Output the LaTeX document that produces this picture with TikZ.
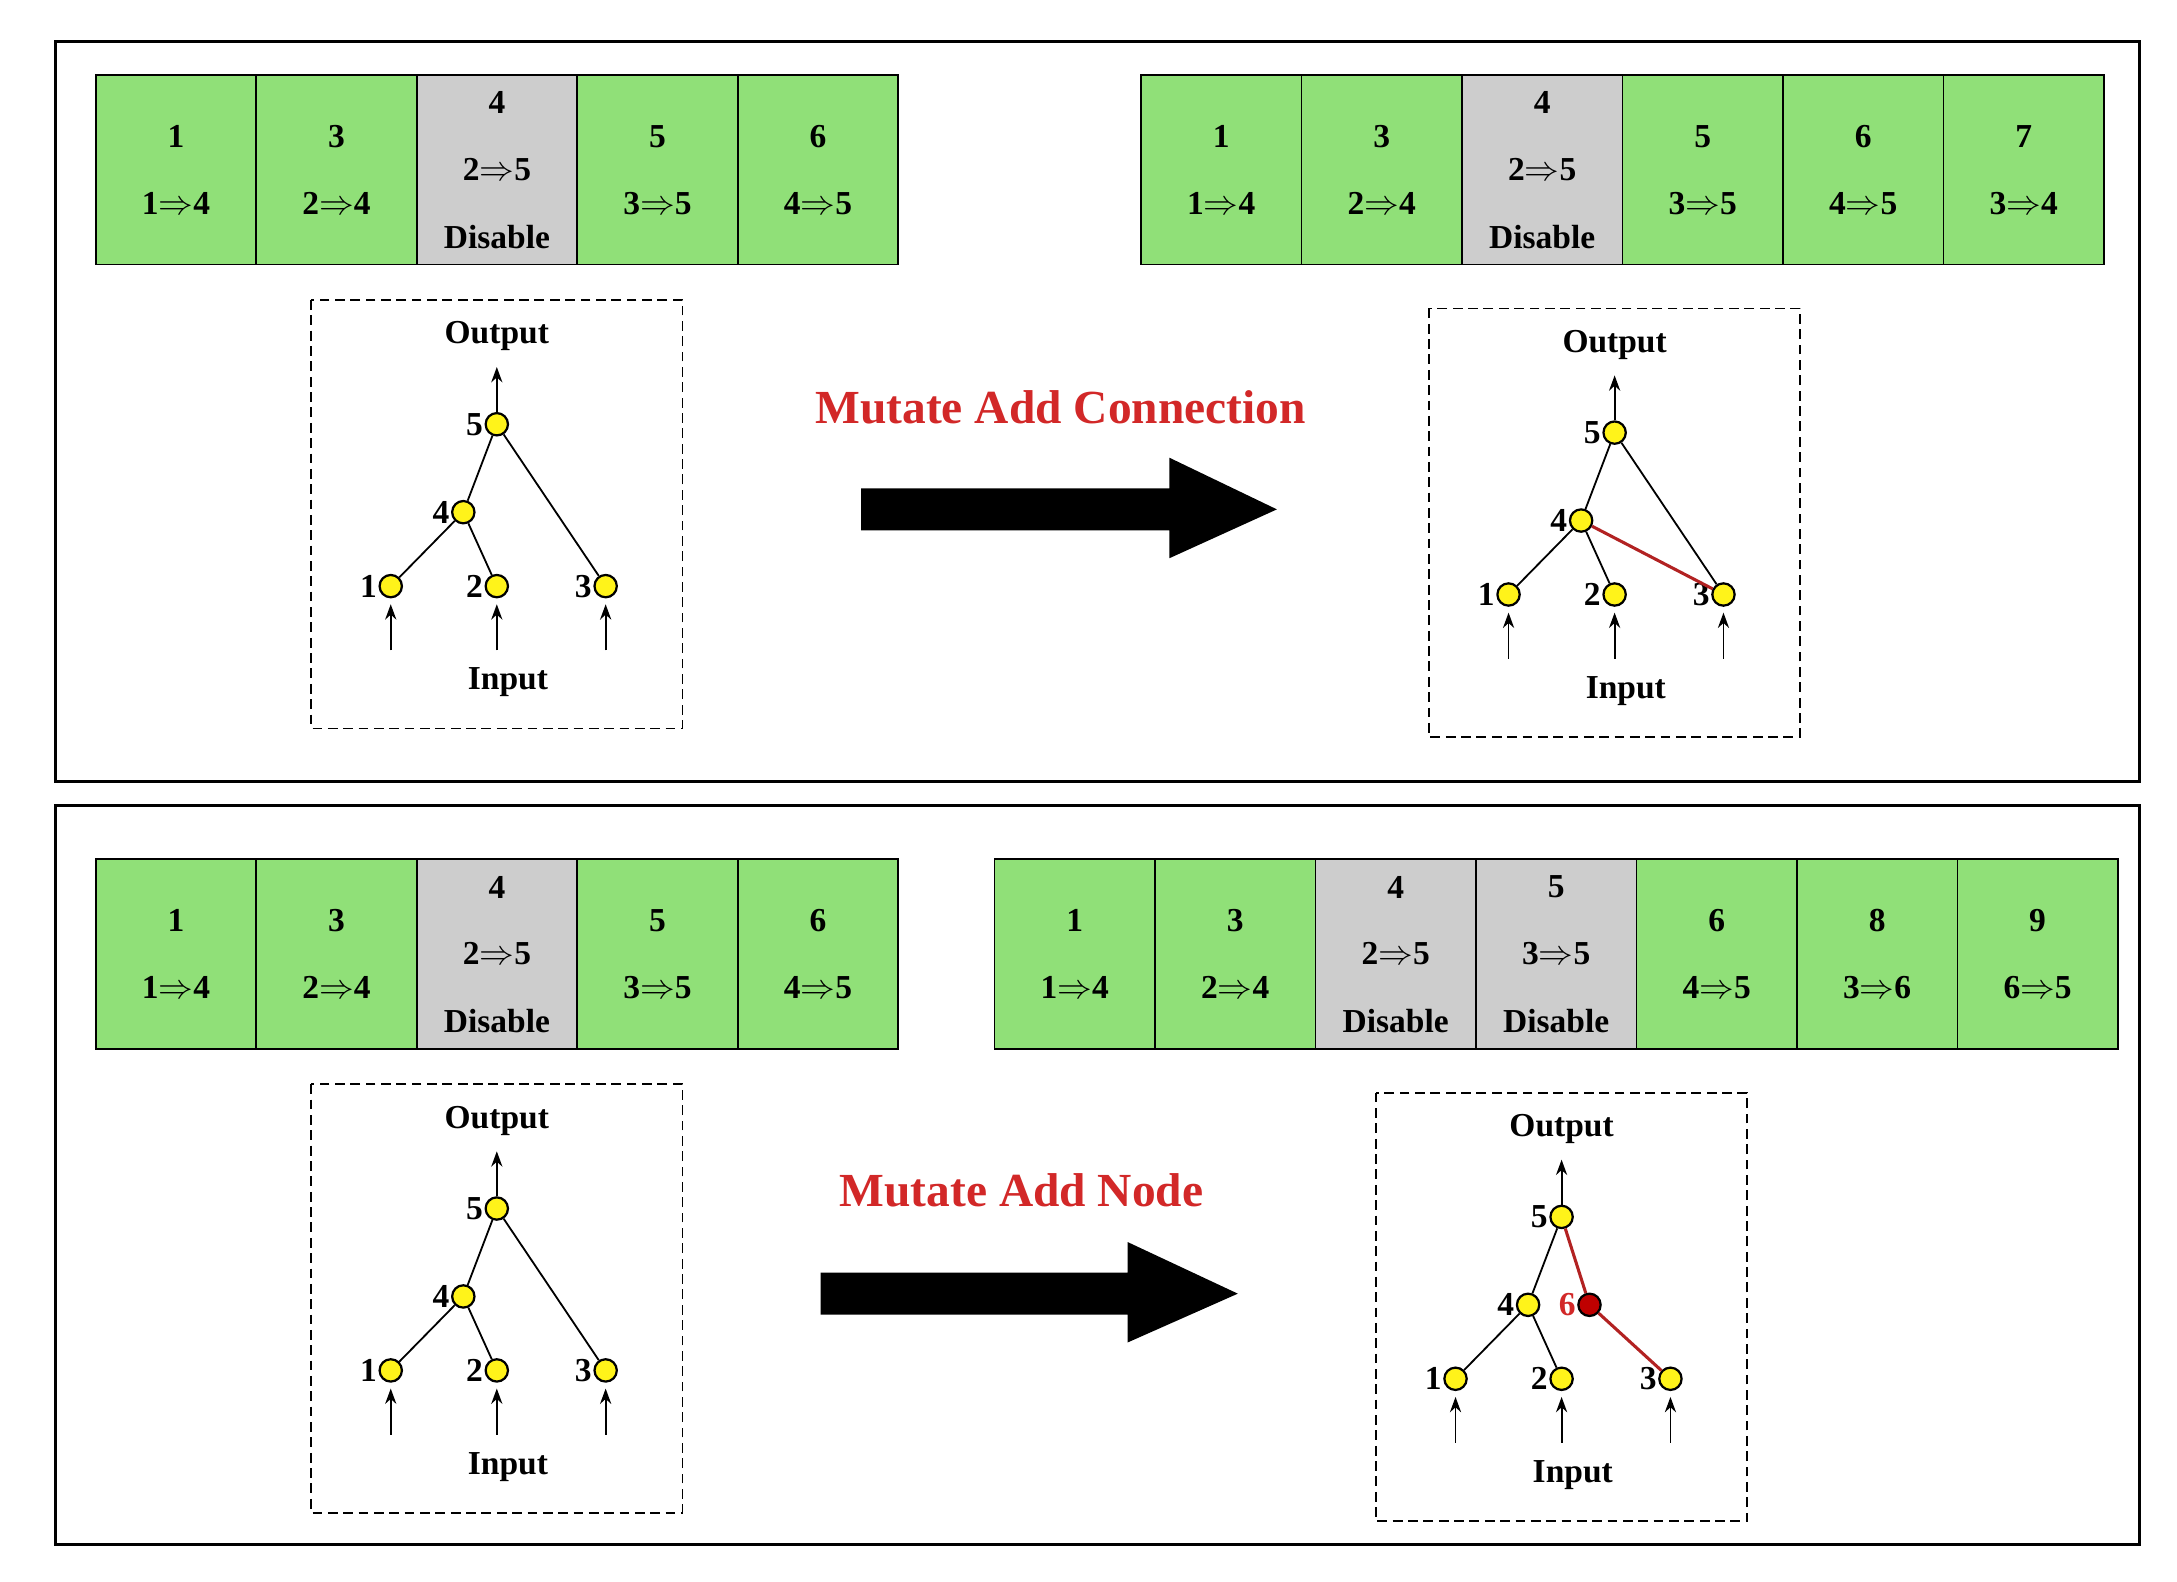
\documentclass[tikz,border=0pt]{standalone}
\usepackage{fontspec}
\setmainfont{Liberation Serif}
\usetikzlibrary{arrows.meta}
\definecolor{cellg}{RGB}{144,224,120}
\definecolor{cellgr}{RGB}{205,205,205}
\definecolor{mred}{RGB}{210,40,40}
\tikzset{
 frame/.style={draw=black,line width=2pt},
 cell/.style={draw=black,line width=1.2pt,fill=cellg,minimum width=115pt,minimum height=136pt,inner sep=0,anchor=north west},
 dcell/.style={cell,fill=cellgr},
 ctext/.style={font=\fontsize{24}{24}\selectfont\bfseries},
 nd/.style={circle,draw=black,line width=1.6pt,fill=yellow!90!white,minimum size=16pt,inner sep=0},
 rnd/.style={nd,fill=red!75!black},
 lbl/.style={font=\fontsize{24}{24}\selectfont\bfseries},
 edge/.style={line width=1.3pt},
 redge/.style={line width=2.2pt,draw=mred!85!black},
 io/.style={-{Stealth[length=11pt,width=8pt]},line width=1.3pt},
 dbox/.style={draw=black,dashed,line width=1.3pt,dash pattern=on 7pt off 4pt},
 title/.style={font=\fontsize{34}{34}\selectfont\bfseries,text=mred},
 big/.style={fill=black},
}
\newcommand{\gcell}[4]{\node[cell] (#1) at (#2) {}; \node[ctext] at ($(#1.center)+(0,-24)$) {#3}; \node[ctext] at ($(#1.center)+(0,24)$) {#4};}
\newcommand{\dcellx}[4]{\node[dcell] (#1) at (#2) {}; \node[ctext] at ($(#1.center)+(0,-48)$) {#3}; \node[ctext] at (#1.center) {#4}; \node[ctext] at ($(#1.center)+(0,48)$) {Disable};}
\usetikzlibrary{calc}
\newcommand{\arr}{\ensuremath{\Rightarrow}}
\begin{document}
\begin{tikzpicture}[x=1pt,y=-1pt]
\useasboundingbox[fill=white] (0,0) rectangle (1560,1133);
\draw[frame] (40,30) rectangle (1533,560);
\draw[frame] (40,577) rectangle (1533,1107);
% top-left cells
\gcell{a1}{68,53}{1}{1\arr4}
\gcell{a2}{183,53}{3}{2\arr4}
\dcellx{a3}{298,53}{4}{2\arr5}
\gcell{a4}{413,53}{5}{3\arr5}
\gcell{a5}{528,53}{6}{4\arr5}
% top-right
\gcell{b1}{817,53}{1}{1\arr4}
\gcell{b2}{932,53}{3}{2\arr4}
\dcellx{b3}{1047,53}{4}{2\arr5}
\gcell{b4}{1162,53}{5}{3\arr5}
\gcell{b5}{1277,53}{6}{4\arr5}
\gcell{b6}{1392,53}{7}{3\arr4}
% bottom-left
\gcell{c1}{68,615}{1}{1\arr4}
\gcell{c2}{183,615}{3}{2\arr4}
\dcellx{c3}{298,615}{4}{2\arr5}
\gcell{c4}{413,615}{5}{3\arr5}
\gcell{c5}{528,615}{6}{4\arr5}
% bottom-right
\gcell{d1}{712,615}{1}{1\arr4}
\gcell{d2}{827,615}{3}{2\arr4}
\dcellx{d3}{942,615}{4}{2\arr5}
\dcellx{d4}{1057,615}{5}{3\arr5}
\gcell{d5}{1172,615}{6}{4\arr5}
\gcell{d6}{1287,615}{8}{3\arr6}
\gcell{d7}{1402,615}{9}{6\arr5}
% trees
\foreach \nm/\dx/\dy/\mode in {t1/0/0/0, t2/801/6/1, t3/0/562/0, t4/763/568/2}{
 \begin{scope}[shift={(\dx,\dy)}]
  \draw[dbox] (223,215) rectangle (489,522);
  \node[lbl] (\nm-out) at (356,241) {Output};
  \node[lbl] (\nm-in) at (364,489) {Input};
  \node[nd,label={[lbl,inner sep=1pt]left:5}] (\nm-5) at (356,304) {};
  \node[nd,label={[lbl,inner sep=1pt]left:4}] (\nm-4) at (332,367) {};
  \node[nd,label={[lbl,inner sep=1pt]left:1}] (\nm-1) at (280,420) {};
  \node[nd,label={[lbl,inner sep=1pt]left:2}] (\nm-2) at (356,420) {};
  \node[nd,label={[lbl,inner sep=1pt]left:3}] (\nm-3) at (434,420) {};
  \coordinate (\nm-o) at (356,263);
  \coordinate (\nm-i1) at (280,466);
  \coordinate (\nm-i2) at (356,466);
  \coordinate (\nm-i3) at (434,466);
  \draw[io] (\nm-5) -- (\nm-o);
  \draw[io] (\nm-i1) -- ($(\nm-1)+(0,13)$);
  \draw[io] (\nm-i2) -- ($(\nm-2)+(0,13)$);
  \draw[io] (\nm-i3) -- ($(\nm-3)+(0,13)$);
  \draw[edge] (\nm-5) -- (\nm-4);
  \draw[edge] (\nm-4) -- (\nm-1);
  \draw[edge] (\nm-4) -- (\nm-2);
  \ifnum\mode<2 \draw[edge] (\nm-5) -- (\nm-3); \fi
  \ifnum\mode=1 \draw[redge] (\nm-4) -- (\nm-3); \fi
  \ifnum\mode=2
   \node[rnd,label={[lbl,text=mred,inner sep=1pt]left:6}] (\nm-6) at (376,367) {};
   \draw[redge] (\nm-5) -- (\nm-6);
   \draw[redge] (\nm-6) -- (\nm-3);
  \fi
 \end{scope}
}
% titles and big arrows
\node[title] (tt1) at (760,292) {Mutate Add Connection};
\node[title] (tt2) at (732,853) {Mutate Add Node};
\fill[big] (617,350) -- (838,350) -- (838,328) -- (915,365) -- (838,400) -- (838,380) -- (617,380) -- cycle;
\fill[big] (588,912) -- (808,912) -- (808,890) -- (887,927) -- (808,962) -- (808,942) -- (588,942) -- cycle;
\end{tikzpicture}
\end{document}
